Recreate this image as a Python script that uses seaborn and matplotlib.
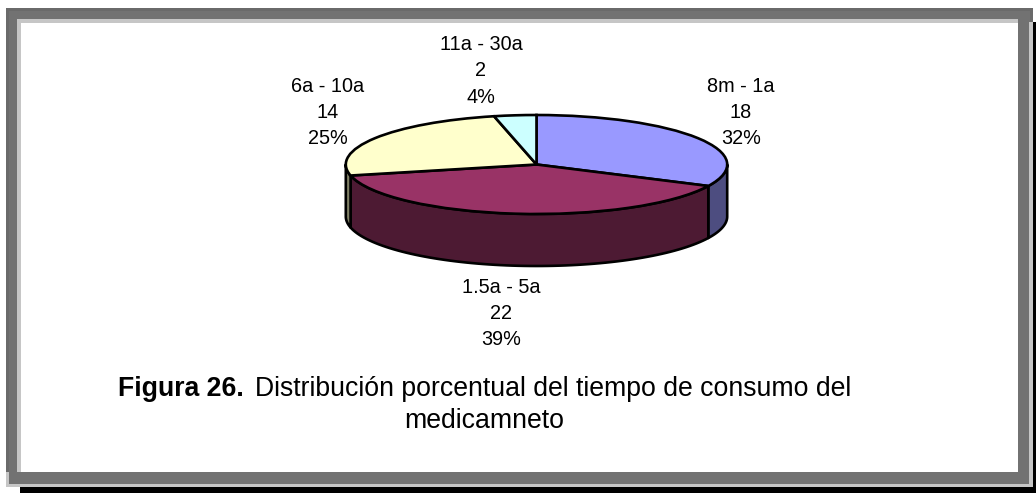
import numpy as np
import seaborn as sns
import matplotlib
matplotlib.use("Agg")
import matplotlib.pyplot as plt
from matplotlib.patches import Rectangle

# Tiempo de consumo del medicamento
categories = ["8m - 1a", "1.5a - 5a", "6a - 10a", "11a - 30a"]
counts = [18, 22, 14, 2]
top_colors = ["#9999FF", "#993366", "#FFFFCC", "#CCFFFF"]
wall_colors = ["#4D4D80", "#4D1A33", "#808066", "#668080"]
label_centers = [(741, 112.5), (501, 313.5), (328, 112.5), (481, 71)]
caption_bold = "Figura 26."
caption_line1 = "Distribución porcentual del tiempo de consumo del"
caption_line2 = "medicamneto"

W, H = 1036, 493
sns.set_theme(style="white")
plt.rcParams["font.family"] = ["Liberation Sans", "DejaVu Sans"]

fig = plt.figure(figsize=(W / 100, H / 100), dpi=100, facecolor="white")

# Page-level axes in pixel units: frame, labels and caption
bg = fig.add_axes([0, 0, 1, 1])
bg.set_xlim(0, W)
bg.set_ylim(H, 0)
bg.axis("off")


def band(x0, y0, x1, y1, color):
    bg.add_patch(Rectangle((x0, y0), x1 - x0, y1 - y0, fc=color, ec="none"))


DARK, MID, LIGHT = "#6A6A6A", "#727272", "#C6C6C6"
band(20, 487, W, H, "black")
band(1033, 22, W, H, "black")
band(6, 8, 1033, 487, DARK)
band(9, 11, 1030, 484, MID)
band(6, 472, 9, 487, LIGHT)
band(6, 484, 1033, 487, LIGHT)
band(1029, 22, 1033, 487, LIGHT)
band(17, 19, 1018, 23, LIGHT)
band(17, 19, 21, 472, LIGHT)
band(21, 23, 1018, 472, "white")

# Pie axes: an ellipse is obtained by letting the unit circle stretch
cx, cy, rx, ry, depth = 536.5, 164.5, 190.7, 49.5, 52.0
pad = 0.1
left = cx - rx * (1 + pad)
right = cx + rx * (1 + pad)
top = cy - ry * (1 + pad)
bottom = cy + ry * (1 + pad) + depth
ax = fig.add_axes([left / W, 1 - bottom / H, (right - left) / W, (bottom - top) / H])
ax.patch.set_alpha(0)

d = depth / ry
edges = np.cumsum([0] + counts) / sum(counts) * 360.0

# Side wall of the disc, only along the near half of the rim
for start, end, color in zip(edges[:-1], edges[1:], wall_colors):
    a, b = max(start, 90.0), min(end, 270.0)
    if a >= b:
        continue
    theta = np.radians(np.linspace(a, b, 80))
    xs = np.sin(theta)
    ys = np.cos(theta)
    ax.fill(
        np.r_[xs, xs[::-1]],
        np.r_[ys, ys[::-1] - d],
        facecolor=color,
        edgecolor="black",
        linewidth=1.9,
        joinstyle="round",
        zorder=1,
    )

wedges, _ = ax.pie(
    counts,
    colors=top_colors,
    startangle=90,
    counterclock=False,
    radius=1.0,
    wedgeprops={"edgecolor": "black", "linewidth": 1.9, "zorder": 2},
)
ax.set_aspect("auto")
ax.set_xlim(-1 - pad, 1 + pad)
ax.set_ylim(-1 - pad - d, 1 + pad)

# Slice labels: name, count and share
total = sum(counts)
for name, n, (lx, ly) in zip(categories, counts, label_centers):
    bg.text(
        lx, ly, f"{name}\n{n}\n{round(n / total * 100)}%",
        ha="center", va="center", fontsize=14.3, linespacing=1.47, color="black",
    )

# Caption with a bold lead-in
bg.text(118, 396, caption_bold, ha="left", va="baseline", fontsize=19.2,
        fontweight="bold", color="black")
bg.text(255, 396, caption_line1, ha="left", va="baseline", fontsize=19.2, color="black")
bg.text(484, 428, caption_line2, ha="center", va="baseline", fontsize=19.2, color="black")

fig.savefig("out.png", dpi=100, facecolor="white")
